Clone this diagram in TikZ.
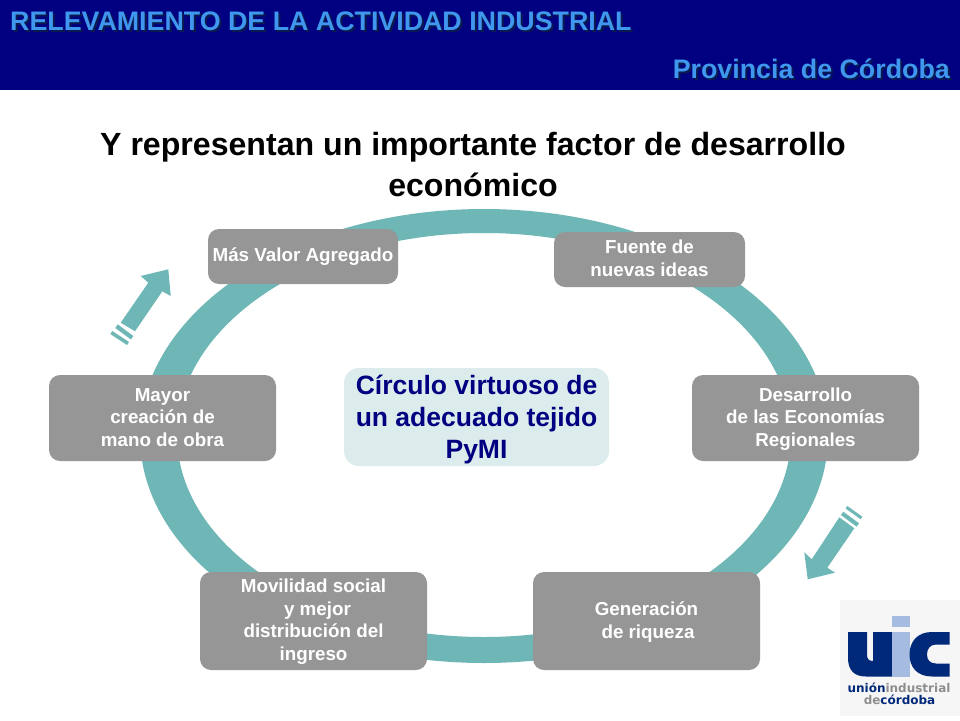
\documentclass[tikz,border=0pt]{standalone}
\usepackage{fontspec}
\setmainfont{Liberation Sans}
\newfontfamily\logofont{DejaVu Sans}
\definecolor{navy1}{HTML}{000080}
\definecolor{skytxt}{HTML}{3F97EE}
\definecolor{shadowb}{HTML}{0A1A50}
\definecolor{teal1}{HTML}{6FB7B7}
\definecolor{grey1}{HTML}{969696}
\definecolor{pale}{HTML}{DCECEC}
\definecolor{logoD}{HTML}{00297A}
\definecolor{logoL}{HTML}{A6BBE0}
\definecolor{logoG}{HTML}{8E8E8E}
\definecolor{logoBg}{HTML}{F6F6F6}
\newcommand{\lowtext}[2]{\raisebox{-#1}[\height][\depth]{\begin{tabular}{@{}c@{}}#2\end{tabular}}}
\tikzset{
  box/.style={fill=grey1,rounded corners=11pt,draw=none,text=white,align=center,inner sep=0pt,
     font=\fontsize{18.8}{22.4}\selectfont\bfseries},
  headtxt/.style={text=skytxt,inner sep=0pt,font=\fontsize{26.8}{28}\selectfont\bfseries},
  headsh/.style={text=shadowb,inner sep=0pt,font=\fontsize{26.8}{28}\selectfont\bfseries},
  arrowshape/.style={fill=teal1,draw=none},
}
\begin{document}
\begin{tikzpicture}[x=1pt,y=-1pt]
\useasboundingbox (0,0) rectangle (960,720);
\fill[white] (0,0) rectangle (960,720);
\fill[navy1] (0,0) rectangle (960,90);
% header
\node[headsh,anchor=base west] (h1s) at (12,32) {RELEVAMIENTO DE LA ACTIVIDAD INDUSTRIAL};
\node[headtxt,anchor=base west] (h1) at (10,30.5) {RELEVAMIENTO DE LA ACTIVIDAD INDUSTRIAL};
\node[headsh,anchor=base east] (h2s) at (952,80) {Provincia de Córdoba};
\node[headtxt,anchor=base east] (h2) at (950,78.5) {Provincia de Córdoba};
% title
\node[inner sep=0pt,align=center,font=\fontsize{32.1}{41}\selectfont\bfseries] (title) at (473,164.5) {Y representan un importante factor de desarrollo\\económico};
% ring
\fill[teal1,even odd rule] (484,436) ellipse [x radius=344,y radius=227] (484,435) ellipse [x radius=307,y radius=202];
% boxes
\node[box,minimum width=190,minimum height=55] (a) at (303,256.5) {\lowtext{1pt}{Más Valor Agregado}};
\node[box,minimum width=191,minimum height=55] (b) at (649.5,259.5) {\lowtext{1pt}{Fuente de\\nuevas ideas}};
\node[box,minimum width=227,minimum height=86] (c) at (805.5,418) {\lowtext{1.5pt}{Desarrollo\\de las Economías\\Regionales}};
\node[box,minimum width=227,minimum height=98] (d) at (646.5,621) {\lowtext{1.5pt}{Generación\\\hspace*{3pt}de riqueza}};
\node[box,minimum width=227,minimum height=98] (e) at (313.5,621) {\lowtext{1pt}{Movilidad social\\\hspace*{8pt}y mejor\\distribución del\\ingreso}};
\node[box,minimum width=227,minimum height=86] (f) at (162.5,418) {\lowtext{1.5pt}{Mayor\\creación de\\mano de obra}};
\node[fill=pale,rounded corners=15pt,inner sep=0pt,minimum width=265,minimum height=98,align=center,text=navy1,
   font=\fontsize{26.5}{32}\selectfont\bfseries] (m) at (476.5,417) {\lowtext{3pt}{Círculo virtuoso de\\un adecuado tejido\\PyMI}};
% arrow upper left
\fill[arrowshape] (120.7,322.7) -- (148.3,282.7) -- (140.7,276) -- (168.3,269.3) -- (170.7,296) -- (162.3,291.3) -- (135,331.3) -- cycle;
\fill[arrowshape] (117.7,324.3) -- (133.3,336) -- (131,339.5) -- (115.3,328) -- cycle;
\fill[arrowshape] (112.3,331) -- (129,342) -- (127,345) -- (110.3,334) -- cycle;
% arrow lower right
\fill[arrowshape] (839.3,517.3) -- (854.3,528.3) -- (827.3,567.7) -- (835,572.7) -- (807.7,579.3) -- (804.3,552.3) -- (811.7,559.3) -- cycle;
\fill[arrowshape] (847.3,506) -- (862.3,516.7) -- (860.6,519.2) -- (845.6,508.5) -- cycle;
\fill[arrowshape] (843.3,511.7) -- (859,523.3) -- (856.6,526.6) -- (840.9,515) -- cycle;
% logo
\fill[logoBg] (840,600) rectangle (960,716);
\fill[logoD] (848,632) -- (867,632) -- (867,655) .. controls (867,659) and (869,661) .. (873,661) -- (873,632) -- (892,632) -- (892,676.5) -- (866,676.5) .. controls (854,676.5) and (848,670) .. (848,658) -- cycle;
\fill[logoL] (892,616) rectangle (909.5,627);
\fill[logoL] (892,632) rectangle (909.5,676.5);
\fill[logoD] (949.5,632) -- (932,632) .. controls (917,632) and (909.5,642) .. (909.5,654.5) .. controls (909.5,667) and (917,676.5) .. (932,676.5) -- (949.5,676.5) -- (949.5,663.5) -- (936,663.5) .. controls (930,663.5) and (927,660) .. (927,654.5) .. controls (927,649) and (930,644.5) .. (936,644.5) -- (949.5,644.5) -- cycle;
\node[inner sep=0pt,anchor=base,font=\logofont\fontsize{12}{14}\selectfont\bfseries] (l1) at (899,692) {\textcolor{logoD}{unión}\textcolor{logoG}{industrial}};
\node[inner sep=0pt,anchor=base,font=\logofont\fontsize{12}{14}\selectfont\bfseries] (l2) at (899.5,704) {\textcolor{logoG}{de}\textcolor{logoD}{córdoba}};
\end{tikzpicture}
\end{document}
